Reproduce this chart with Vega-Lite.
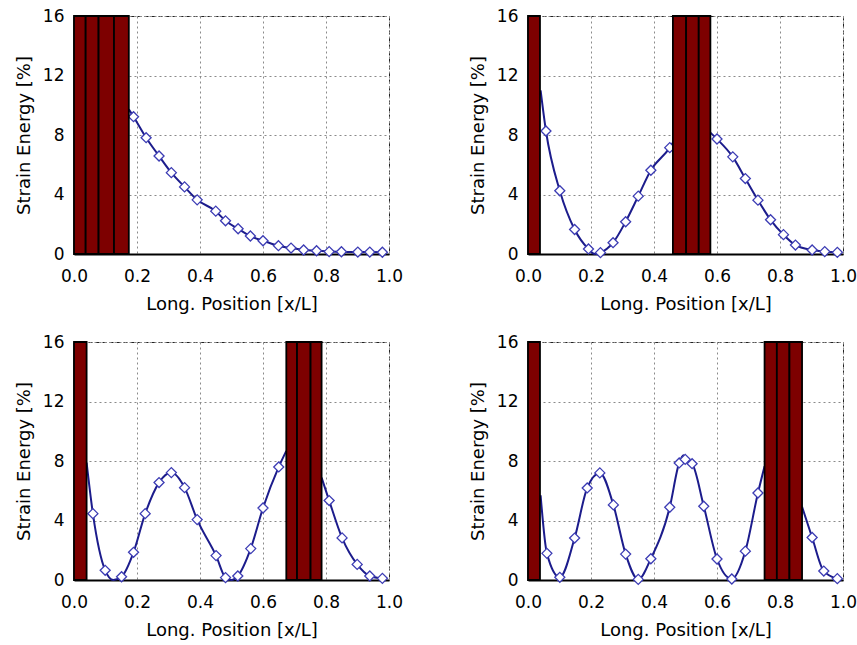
{
  "$schema": "https://vega.github.io/schema/vega-lite/v6.json",
  "background": "white",
  "padding": {"left": 14, "top": 6, "right": 0, "bottom": 5},
  "data": {"values": [
    {"p": 1, "k": "bar", "x": 0, "x2": 0.037},
    {"p": 1, "k": "bar", "x": 0.037, "x2": 0.078},
    {"p": 1, "k": "bar", "x": 0.078, "x2": 0.127},
    {"p": 1, "k": "bar", "x": 0.127, "x2": 0.174},
    {"p": 2, "k": "bar", "x": 0, "x2": 0.038},
    {"p": 2, "k": "bar", "x": 0.46, "x2": 0.502},
    {"p": 2, "k": "bar", "x": 0.502, "x2": 0.542},
    {"p": 2, "k": "bar", "x": 0.542, "x2": 0.579},
    {"p": 3, "k": "bar", "x": 0, "x2": 0.040},
    {"p": 3, "k": "bar", "x": 0.674, "x2": 0.708},
    {"p": 3, "k": "bar", "x": 0.708, "x2": 0.751},
    {"p": 3, "k": "bar", "x": 0.751, "x2": 0.786},
    {"p": 4, "k": "bar", "x": 0, "x2": 0.038},
    {"p": 4, "k": "bar", "x": 0.751, "x2": 0.790},
    {"p": 4, "k": "bar", "x": 0.790, "x2": 0.830},
    {"p": 4, "k": "bar", "x": 0.830, "x2": 0.870},

    {"p": 1, "k": "pt", "s": "a", "m": 0, "x": 0.174, "y": 9.72},
    {"p": 1, "k": "pt", "s": "a", "m": 1, "x": 0.189, "y": 9.23},
    {"p": 1, "k": "pt", "s": "a", "m": 1, "x": 0.229, "y": 7.82},
    {"p": 1, "k": "pt", "s": "a", "m": 1, "x": 0.270, "y": 6.59},
    {"p": 1, "k": "pt", "s": "a", "m": 1, "x": 0.309, "y": 5.47},
    {"p": 1, "k": "pt", "s": "a", "m": 1, "x": 0.351, "y": 4.51},
    {"p": 1, "k": "pt", "s": "a", "m": 1, "x": 0.391, "y": 3.64},
    {"p": 1, "k": "pt", "s": "a", "m": 1, "x": 0.450, "y": 2.88},
    {"p": 1, "k": "pt", "s": "a", "m": 1, "x": 0.481, "y": 2.23},
    {"p": 1, "k": "pt", "s": "a", "m": 1, "x": 0.521, "y": 1.70},
    {"p": 1, "k": "pt", "s": "a", "m": 1, "x": 0.560, "y": 1.21},
    {"p": 1, "k": "pt", "s": "a", "m": 1, "x": 0.600, "y": 0.89},
    {"p": 1, "k": "pt", "s": "a", "m": 1, "x": 0.649, "y": 0.56},
    {"p": 1, "k": "pt", "s": "a", "m": 1, "x": 0.689, "y": 0.40},
    {"p": 1, "k": "pt", "s": "a", "m": 1, "x": 0.729, "y": 0.27},
    {"p": 1, "k": "pt", "s": "a", "m": 1, "x": 0.770, "y": 0.22},
    {"p": 1, "k": "pt", "s": "a", "m": 1, "x": 0.810, "y": 0.16},
    {"p": 1, "k": "pt", "s": "a", "m": 1, "x": 0.849, "y": 0.15},
    {"p": 1, "k": "pt", "s": "a", "m": 1, "x": 0.901, "y": 0.13},
    {"p": 1, "k": "pt", "s": "a", "m": 1, "x": 0.939, "y": 0.13},
    {"p": 1, "k": "pt", "s": "a", "m": 1, "x": 0.979, "y": 0.12},

    {"p": 2, "k": "pt", "s": "a", "m": 0, "x": 0.040, "y": 11.0},
    {"p": 2, "k": "pt", "s": "a", "m": 1, "x": 0.057, "y": 8.27},
    {"p": 2, "k": "pt", "s": "a", "m": 1, "x": 0.101, "y": 4.25},
    {"p": 2, "k": "pt", "s": "a", "m": 1, "x": 0.148, "y": 1.65},
    {"p": 2, "k": "pt", "s": "a", "m": 1, "x": 0.192, "y": 0.34},
    {"p": 2, "k": "pt", "s": "a", "m": 0, "x": 0.212, "y": 0.0},
    {"p": 2, "k": "pt", "s": "a", "m": 1, "x": 0.230, "y": 0.09},
    {"p": 2, "k": "pt", "s": "a", "m": 1, "x": 0.270, "y": 0.76},
    {"p": 2, "k": "pt", "s": "a", "m": 1, "x": 0.310, "y": 2.17},
    {"p": 2, "k": "pt", "s": "a", "m": 1, "x": 0.350, "y": 3.89},
    {"p": 2, "k": "pt", "s": "a", "m": 1, "x": 0.390, "y": 5.63},
    {"p": 2, "k": "pt", "s": "a", "m": 1, "x": 0.450, "y": 7.15},
    {"p": 2, "k": "pt", "s": "a", "m": 0, "x": 0.460, "y": 7.49},
    {"p": 2, "k": "pt", "s": "b", "m": 0, "x": 0.579, "y": 8.16},
    {"p": 2, "k": "pt", "s": "b", "m": 1, "x": 0.600, "y": 7.73},
    {"p": 2, "k": "pt", "s": "b", "m": 1, "x": 0.650, "y": 6.53},
    {"p": 2, "k": "pt", "s": "b", "m": 1, "x": 0.690, "y": 5.07},
    {"p": 2, "k": "pt", "s": "b", "m": 1, "x": 0.730, "y": 3.62},
    {"p": 2, "k": "pt", "s": "b", "m": 1, "x": 0.770, "y": 2.30},
    {"p": 2, "k": "pt", "s": "b", "m": 1, "x": 0.811, "y": 1.30},
    {"p": 2, "k": "pt", "s": "b", "m": 1, "x": 0.849, "y": 0.60},
    {"p": 2, "k": "pt", "s": "b", "m": 1, "x": 0.902, "y": 0.27},
    {"p": 2, "k": "pt", "s": "b", "m": 1, "x": 0.942, "y": 0.16},
    {"p": 2, "k": "pt", "s": "b", "m": 1, "x": 0.982, "y": 0.11},

    {"p": 3, "k": "pt", "s": "a", "m": 0, "x": 0.040, "y": 7.89},
    {"p": 3, "k": "pt", "s": "a", "m": 1, "x": 0.060, "y": 4.46},
    {"p": 3, "k": "pt", "s": "a", "m": 1, "x": 0.099, "y": 0.65},
    {"p": 3, "k": "pt", "s": "a", "m": 0, "x": 0.125, "y": 0.0},
    {"p": 3, "k": "pt", "s": "a", "m": 1, "x": 0.151, "y": 0.22},
    {"p": 3, "k": "pt", "s": "a", "m": 1, "x": 0.189, "y": 1.86},
    {"p": 3, "k": "pt", "s": "a", "m": 1, "x": 0.226, "y": 4.46},
    {"p": 3, "k": "pt", "s": "a", "m": 1, "x": 0.270, "y": 6.55},
    {"p": 3, "k": "pt", "s": "a", "m": 1, "x": 0.309, "y": 7.22},
    {"p": 3, "k": "pt", "s": "a", "m": 1, "x": 0.351, "y": 6.21},
    {"p": 3, "k": "pt", "s": "a", "m": 1, "x": 0.391, "y": 4.06},
    {"p": 3, "k": "pt", "s": "a", "m": 1, "x": 0.451, "y": 1.64},
    {"p": 3, "k": "pt", "s": "a", "m": 1, "x": 0.481, "y": 0.16},
    {"p": 3, "k": "pt", "s": "a", "m": 0, "x": 0.500, "y": 0.0},
    {"p": 3, "k": "pt", "s": "a", "m": 1, "x": 0.520, "y": 0.27},
    {"p": 3, "k": "pt", "s": "a", "m": 1, "x": 0.561, "y": 2.11},
    {"p": 3, "k": "pt", "s": "a", "m": 1, "x": 0.600, "y": 4.84},
    {"p": 3, "k": "pt", "s": "a", "m": 1, "x": 0.650, "y": 7.60},
    {"p": 3, "k": "pt", "s": "a", "m": 0, "x": 0.674, "y": 8.68},
    {"p": 3, "k": "pt", "s": "b", "m": 0, "x": 0.786, "y": 6.88},
    {"p": 3, "k": "pt", "s": "b", "m": 1, "x": 0.810, "y": 5.34},
    {"p": 3, "k": "pt", "s": "b", "m": 1, "x": 0.851, "y": 2.83},
    {"p": 3, "k": "pt", "s": "b", "m": 1, "x": 0.899, "y": 1.05},
    {"p": 3, "k": "pt", "s": "b", "m": 1, "x": 0.939, "y": 0.27},
    {"p": 3, "k": "pt", "s": "b", "m": 1, "x": 0.979, "y": 0.11},

    {"p": 4, "k": "pt", "s": "a", "m": 0, "x": 0.040, "y": 5.70},
    {"p": 4, "k": "pt", "s": "a", "m": 1, "x": 0.060, "y": 1.79},
    {"p": 4, "k": "pt", "s": "a", "m": 1, "x": 0.101, "y": 0.18},
    {"p": 4, "k": "pt", "s": "a", "m": 1, "x": 0.148, "y": 2.82},
    {"p": 4, "k": "pt", "s": "a", "m": 1, "x": 0.188, "y": 6.19},
    {"p": 4, "k": "pt", "s": "a", "m": 1, "x": 0.228, "y": 7.20},
    {"p": 4, "k": "pt", "s": "a", "m": 1, "x": 0.271, "y": 5.05},
    {"p": 4, "k": "pt", "s": "a", "m": 1, "x": 0.310, "y": 1.74},
    {"p": 4, "k": "pt", "s": "a", "m": 1, "x": 0.350, "y": 0.04},
    {"p": 4, "k": "pt", "s": "a", "m": 1, "x": 0.390, "y": 1.43},
    {"p": 4, "k": "pt", "s": "a", "m": 1, "x": 0.450, "y": 4.89},
    {"p": 4, "k": "pt", "s": "a", "m": 1, "x": 0.480, "y": 7.87},
    {"p": 4, "k": "pt", "s": "a", "m": 0, "x": 0.494, "y": 8.38},
    {"p": 4, "k": "pt", "s": "a", "m": 1, "x": 0.499, "y": 8.11},
    {"p": 4, "k": "pt", "s": "a", "m": 1, "x": 0.521, "y": 7.82},
    {"p": 4, "k": "pt", "s": "a", "m": 1, "x": 0.558, "y": 4.96},
    {"p": 4, "k": "pt", "s": "a", "m": 1, "x": 0.600, "y": 1.41},
    {"p": 4, "k": "pt", "s": "a", "m": 1, "x": 0.647, "y": 0.07},
    {"p": 4, "k": "pt", "s": "a", "m": 1, "x": 0.690, "y": 1.94},
    {"p": 4, "k": "pt", "s": "a", "m": 1, "x": 0.730, "y": 5.85},
    {"p": 4, "k": "pt", "s": "a", "m": 0, "x": 0.751, "y": 7.64},
    {"p": 4, "k": "pt", "s": "b", "m": 0, "x": 0.870, "y": 4.92},
    {"p": 4, "k": "pt", "s": "b", "m": 1, "x": 0.902, "y": 2.86},
    {"p": 4, "k": "pt", "s": "b", "m": 1, "x": 0.939, "y": 0.60},
    {"p": 4, "k": "pt", "s": "b", "m": 1, "x": 0.982, "y": 0.09}
  ]},
  "columns": 2,
  "spacing": {"row": 88, "column": 139},
  "bounds": "flush",
  "concat": [
    {
      "width": 315, "height": 238,
      "transform": [{"filter": "datum.p === 1"}],
      "layer": [
        {"transform": [{"filter": "datum.k === 'pt'"}],
         "mark": {"type": "line", "interpolate": "monotone", "color": "#1c1c8c", "strokeWidth": 2},
         "encoding": {
           "x": {"field": "x", "type": "quantitative", "scale": {"domain": [0, 1], "nice": false},
                 "axis": {"title": "Long. Position [x/L]", "values": [0, 0.2, 0.4, 0.6, 0.8, 1.0], "format": ".1f"}},
           "y": {"field": "y", "type": "quantitative", "scale": {"domain": [0, 16], "nice": false},
                 "axis": {"title": "Strain Energy [%]", "values": [0, 4, 8, 12, 16], "format": "d"}},
           "detail": {"field": "s", "type": "nominal"}}},
        {"transform": [{"filter": "datum.k === 'pt' && datum.m === 1"}],
         "mark": {"type": "point", "shape": "diamond", "filled": true, "fill": "white", "stroke": "#3c3cb4", "strokeWidth": 1.3, "size": 100, "opacity": 1},
         "encoding": {"x": {"field": "x", "type": "quantitative"}, "y": {"field": "y", "type": "quantitative"}}},
        {"transform": [{"filter": "datum.k === 'bar'"}],
         "mark": {"type": "rect", "color": "#7d0000", "stroke": "black", "strokeWidth": 1.8},
         "encoding": {"x": {"field": "x", "type": "quantitative"}, "x2": {"field": "x2"}}}
      ]
    },
    {
      "width": 315, "height": 238,
      "transform": [{"filter": "datum.p === 2"}],
      "layer": [
        {"transform": [{"filter": "datum.k === 'pt'"}],
         "mark": {"type": "line", "interpolate": "monotone", "color": "#1c1c8c", "strokeWidth": 2},
         "encoding": {
           "x": {"field": "x", "type": "quantitative", "scale": {"domain": [0, 1], "nice": false},
                 "axis": {"title": "Long. Position [x/L]", "values": [0, 0.2, 0.4, 0.6, 0.8, 1.0], "format": ".1f"}},
           "y": {"field": "y", "type": "quantitative", "scale": {"domain": [0, 16], "nice": false},
                 "axis": {"title": "Strain Energy [%]", "values": [0, 4, 8, 12, 16], "format": "d"}},
           "detail": {"field": "s", "type": "nominal"}}},
        {"transform": [{"filter": "datum.k === 'pt' && datum.m === 1"}],
         "mark": {"type": "point", "shape": "diamond", "filled": true, "fill": "white", "stroke": "#3c3cb4", "strokeWidth": 1.3, "size": 100, "opacity": 1},
         "encoding": {"x": {"field": "x", "type": "quantitative"}, "y": {"field": "y", "type": "quantitative"}}},
        {"transform": [{"filter": "datum.k === 'bar'"}],
         "mark": {"type": "rect", "color": "#7d0000", "stroke": "black", "strokeWidth": 1.8},
         "encoding": {"x": {"field": "x", "type": "quantitative"}, "x2": {"field": "x2"}}}
      ]
    },
    {
      "width": 315, "height": 238,
      "transform": [{"filter": "datum.p === 3"}],
      "layer": [
        {"transform": [{"filter": "datum.k === 'pt'"}],
         "mark": {"type": "line", "interpolate": "monotone", "color": "#1c1c8c", "strokeWidth": 2},
         "encoding": {
           "x": {"field": "x", "type": "quantitative", "scale": {"domain": [0, 1], "nice": false},
                 "axis": {"title": "Long. Position [x/L]", "values": [0, 0.2, 0.4, 0.6, 0.8, 1.0], "format": ".1f"}},
           "y": {"field": "y", "type": "quantitative", "scale": {"domain": [0, 16], "nice": false},
                 "axis": {"title": "Strain Energy [%]", "values": [0, 4, 8, 12, 16], "format": "d"}},
           "detail": {"field": "s", "type": "nominal"}}},
        {"transform": [{"filter": "datum.k === 'pt' && datum.m === 1"}],
         "mark": {"type": "point", "shape": "diamond", "filled": true, "fill": "white", "stroke": "#3c3cb4", "strokeWidth": 1.3, "size": 100, "opacity": 1},
         "encoding": {"x": {"field": "x", "type": "quantitative"}, "y": {"field": "y", "type": "quantitative"}}},
        {"transform": [{"filter": "datum.k === 'bar'"}],
         "mark": {"type": "rect", "color": "#7d0000", "stroke": "black", "strokeWidth": 1.8},
         "encoding": {"x": {"field": "x", "type": "quantitative"}, "x2": {"field": "x2"}}}
      ]
    },
    {
      "width": 315, "height": 238,
      "transform": [{"filter": "datum.p === 4"}],
      "layer": [
        {"transform": [{"filter": "datum.k === 'pt'"}],
         "mark": {"type": "line", "interpolate": "monotone", "color": "#1c1c8c", "strokeWidth": 2},
         "encoding": {
           "x": {"field": "x", "type": "quantitative", "scale": {"domain": [0, 1], "nice": false},
                 "axis": {"title": "Long. Position [x/L]", "values": [0, 0.2, 0.4, 0.6, 0.8, 1.0], "format": ".1f"}},
           "y": {"field": "y", "type": "quantitative", "scale": {"domain": [0, 16], "nice": false},
                 "axis": {"title": "Strain Energy [%]", "values": [0, 4, 8, 12, 16], "format": "d"}},
           "detail": {"field": "s", "type": "nominal"}}},
        {"transform": [{"filter": "datum.k === 'pt' && datum.m === 1"}],
         "mark": {"type": "point", "shape": "diamond", "filled": true, "fill": "white", "stroke": "#3c3cb4", "strokeWidth": 1.3, "size": 100, "opacity": 1},
         "encoding": {"x": {"field": "x", "type": "quantitative"}, "y": {"field": "y", "type": "quantitative"}}},
        {"transform": [{"filter": "datum.k === 'bar'"}],
         "mark": {"type": "rect", "color": "#7d0000", "stroke": "black", "strokeWidth": 1.8},
         "encoding": {"x": {"field": "x", "type": "quantitative"}, "x2": {"field": "x2"}}}
      ]
    }
  ],
  "config": {
    "font": "DejaVu Sans",
    "view": {"stroke": "#222", "strokeDash": [4, 3], "strokeWidth": 1},
    "axis": {
      "domainColor": "black",
      "domainWidth": 2,
      "ticks": false,
      "grid": true,
      "gridColor": "#8a8a8a",
      "gridDash": [2, 3],
      "gridWidth": 1,
      "labelFont": "DejaVu Sans",
      "labelFontSize": 17,
      "labelColor": "black",
      "labelFlush": false,
      "labelOverlap": false,
      "titleFont": "DejaVu Sans",
      "titleFontSize": 18,
      "titleFontWeight": "normal",
      "titleColor": "black"
    },
    "axisX": {"labelPadding": 14, "titlePadding": 11},
    "axisY": {"labelPadding": 10, "titlePadding": 9}
  }
}
